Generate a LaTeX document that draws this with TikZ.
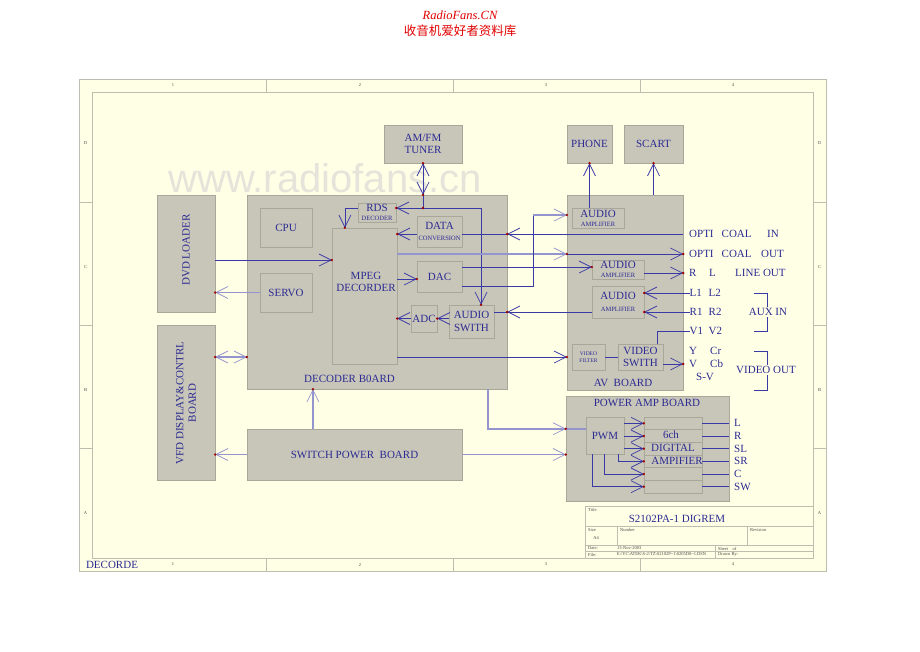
\documentclass[tikz,border=0pt]{standalone}
\usepackage{fontspec}
\setmainfont{Liberation Serif}
\newfontfamily\wmfont{Liberation Sans}
\newfontfamily\cjkfont{Noto Sans CJK SC}
\usetikzlibrary{arrows.meta}
\usetikzlibrary{calc}

\definecolor{paper}{HTML}{FFFFE6}
\definecolor{frameline}{HTML}{BDBDB0}
\definecolor{boxfill}{HTML}{C8C5B9}
\definecolor{boxline}{HTML}{A9A69A}
\definecolor{ink}{HTML}{2B2B92}
\definecolor{wireblue}{HTML}{3A3AA6}
\definecolor{busblue}{HTML}{9494CE}
\definecolor{dotred}{HTML}{A00000}
\definecolor{webred}{HTML}{E00000}
\definecolor{wmgray}{HTML}{E4E4DA}

\newcommand{\subfont}{\fontsize{6.5}{7}\selectfont}
\newcommand{\tipdot}[1]{\fill[dotred] (#1) circle[radius=1.3pt];}

\tikzset{
  blk/.style={draw=boxline, fill=boxfill, inner sep=0pt, text=ink, align=center},
  txt/.style={text=ink, inner sep=0pt},
  tiny/.style={inner sep=0pt, text=black!70, font=\fontsize{4.5}{5}\selectfont},
  wire/.style={draw=wireblue, line width=0.7pt},
  bus/.style={draw=busblue, line width=1.6pt},
  arr/.style={-{Straight Barb[length=12pt,width=12pt,line width=0.7pt]}},
  biarr/.style={{Straight Barb[length=12pt,width=12pt,line width=0.7pt]}-{Straight Barb[length=12pt,width=12pt,line width=0.7pt]}},
}

\begin{document}
\begin{tikzpicture}[x=1pt,y=-1pt,font=\fontsize{11}{12.5}\selectfont]
  \useasboundingbox (0,0) rectangle (920,651);

  % defines
  \pgfmathsetmacro\LoadY{260} % DVD loader -> MPEG
  \pgfmathsetmacro\VfdY{357}  % VFD <-> decoder
  \pgfmathsetmacro\RdsY{208}  % tuner bus

  % sheet and border
  \filldraw[fill=paper,draw=frameline] (79,79) rectangle (826,571);
  \draw[frameline] (92,92) rectangle (813,558);
  \foreach \x in {266,453,640} {
    \draw[frameline] (\x,79) -- (\x,92);
    \draw[frameline] (\x,558) -- (\x,571);
  }
  \foreach \y in {202,325,448} {
    \draw[frameline] (79,\y) -- (92,\y);
    \draw[frameline] (813,\y) -- (826,\y);
  }
  \foreach \n/\x in {1/173,2/360,3/546,4/733} {
    \node[tiny] (coltop\n) at (\x,85.5) {\n};
    \node[tiny] (colbot\n) at (\x,564.5) {\n};
  }
  \foreach \l/\y in {D/143,C/267,B/390,A/513} {
    \node[tiny] (rowl\l) at (85.5,\y) {\l};
    \node[tiny] (rowr\l) at (819.5,\y) {\l};
  }
  \node[txt] (sheetname) at (112,565) {DECORDE};

  % title block
  \draw[frameline] (585,506) rectangle (813,558);
  \draw[frameline] (585,526) -- (813,526);
  \draw[frameline] (585,545.5) -- (813,545.5);
  \draw[frameline] (585,551.5) -- (813,551.5);
  \draw[frameline] (617,526) -- (617,545.5);
  \draw[frameline] (747,526) -- (747,545.5);
  \draw[frameline] (715,545.5) -- (715,558);
  \node[tiny, anchor=west] (ttitle) at (588,509.5) {Title};
  \node[txt] (dwgname) at (677,519) {S2102PA-1 DIGREM};
  \node[tiny, anchor=west] (tsize) at (588,530) {Size};
  \node[tiny] (tformat) at (596,538.5) {A4};
  \node[tiny, anchor=west] (tnumber) at (620,530) {Number};
  \node[tiny, anchor=west] (trev) at (750,530) {Revision};
  \node[tiny, anchor=west] (tdate) at (588,548.5) {Date:};
  \node[tiny, anchor=west] (tdateval) at (617,548.5) {13-Nov-2003};
  \node[tiny, anchor=west] (tsheet) at (718,548.5) {Sheet\ \ \ \ of};
  \node[tiny, anchor=west] (tfile) at (588,554.5) {File:};
  \node[tiny, anchor=west] (tfileval) at (617,554.5) {E:\textbackslash YC\textbackslash ATEK\textbackslash S-2\textbackslash TZ\textbackslash S2102P\textasciitilde1\textbackslash 0205D0\textasciitilde1.DSN};
  \node[tiny, anchor=west] (tdrawn) at (718,554.5) {Drawn By:};

  % site header and watermark
  \node[text=webred, font=\fontsize{12.5}{14}\selectfont\itshape] (site) at (460,15) {RadioFans.CN};
  \node[text=webred, font=\cjkfont\fontsize{12.5}{14}\selectfont] (sitecn) at (460,31) {收音机爱好者资料库};
  \node[text=wmgray, font=\wmfont\fontsize{40}{40}\selectfont] (wm) at (325,178) {www.radiofans.cn};

  % boards
  \node (tuner) at (423,144) [blk, minimum width=78pt, minimum height=38pt] {AM/FM\\TUNER};
  \node (phone) at (589.5,144) [blk, minimum width=45pt, minimum height=38pt] {PHONE};
  \node (scart) at (653.5,144) [blk, minimum width=59pt, minimum height=38pt] {SCART};
  \node (dvd) at (186,253.5) [blk, minimum width=58pt, minimum height=117pt] {};
  \node (vfd) at (186,402.5) [blk, minimum width=58pt, minimum height=155pt] {};
  \node (dec) at (377,292) [blk, minimum width=260pt, minimum height=194pt] {};
  \node (av) at (625,292.5) [blk, minimum width=116pt, minimum height=195pt] {};
  \node (pab) at (647.5,448.5) [blk, minimum width=163pt, minimum height=105pt] {};
  \node (swp) at (354.5,454.5) [blk, minimum width=215pt, minimum height=51pt] {SWITCH POWER\ \ BOARD};
  \node[txt, rotate=90] (dvdlbl) at (186,250) {DVD LOADER};
  \node[txt, rotate=90, align=center] (vfdlbl) at (186,403) {VFD DISPLAY\&CONTRL\\BOARD};
  \node[txt] (declbl) at (349.5,379) {DECODER B0ARD};
  \node[txt] (avlbl) at (623,383) {AV\ \ BOARD};
  \node[txt] (pablbl) at (647,403) {POWER AMP BOARD};

  % decoder board parts
  \node (cpu) at (286,227.5) [blk, minimum width=52pt, minimum height=39pt] {CPU};
  \node (servo) at (286,292.5) [blk, minimum width=52pt, minimum height=39pt] {SERVO};
  \node (mpeg) at (364.5,296) [blk, minimum width=65pt, minimum height=136pt] {};
  \node[txt, align=center] (mpeglbl) at (366,282) {MPEG\\DECORDER};
  \node (rds) at (377,212.5) [blk, minimum width=38pt, minimum height=19pt] {RDS\\[-4pt]{\subfont DECODER}};
  \node (data) at (439.5,231.5) [blk, minimum width=45pt, minimum height=31pt] {DATA\\[-1pt]{\subfont CONVERSION}};
  \node (dac) at (439.5,276.5) [blk, minimum width=45pt, minimum height=31pt] {DAC};
  \node (adc) at (424,318.5) [blk, minimum width=26pt, minimum height=27pt] {ADC};
  \node (asw) at (471.5,321.5) [blk, minimum width=45pt, minimum height=33pt] {AUDIO\\SWITH};

  % av board parts
  \node (amp1) at (598,218) [blk, minimum width=52pt, minimum height=20pt] {AUDIO\\[-3.5pt]{\subfont AMPLIFIER}};
  \node (amp2) at (618,269.5) [blk, minimum width=52pt, minimum height=19pt] {AUDIO\\[-3.5pt]{\subfont AMPLIFIER}};
  \node (amp3) at (618,302) [blk, minimum width=52pt, minimum height=32pt] {AUDIO\\{\subfont AMPLIFIER}};
  \node (vfilter) at (588.5,357) [blk, minimum width=33pt, minimum height=26pt, font=\fontsize{5.5}{6.5}\selectfont] {VIDEO\\FILTER};
  \node (vsw) at (640.5,357) [blk, minimum width=45pt, minimum height=26pt] {VIDEO\\SWITH};

  % power amp parts
  \node (pwm) at (605,435.5) [blk, minimum width=38pt, minimum height=37pt] {PWM};
  \foreach \i in {1,...,6}
    \node (pa\i) at (673,{417+12.67*(\i-0.5)}) [blk, minimum width=58pt, minimum height=12.67pt] {};
  \node[txt] (palbl1) at (671,435) {6ch};
  \node[txt] (palbl2) at (673,448) {DIGITAL};
  \node[txt] (palbl3) at (677,461) {AMPIFIER};

  % jacks on the right
  \node[txt, anchor=west] (optin) at (689,234) {OPTI};
  \node[txt, anchor=west] (coalin) at (721.5,234) {COAL};
  \node[txt, anchor=west] (insig) at (767,234) {IN};
  \node[txt, anchor=west] (optout) at (689,254) {OPTI};
  \node[txt, anchor=west] (coalout) at (721.5,254) {COAL};
  \node[txt, anchor=west] (outsig) at (761,254) {OUT};
  \node[txt, anchor=west] (lor) at (689,273) {R};
  \node[txt, anchor=west] (lol) at (709,273) {L};
  \node[txt, anchor=west] (lineout) at (735,273) {LINE OUT};
  \node[txt, anchor=west] (auxl1) at (689.5,293) {L1};
  \node[txt, anchor=west] (auxl2) at (708.5,293) {L2};
  \node[txt, anchor=west] (auxr1) at (689.5,312) {R1};
  \node[txt, anchor=west] (auxr2) at (708.5,312) {R2};
  \node[txt, anchor=west] (auxv1) at (689.5,331) {V1};
  \node[txt, anchor=west] (auxv2) at (708.5,331) {V2};
  \node[txt, anchor=west] (vidy) at (689,351) {Y};
  \node[txt, anchor=west] (vidcr) at (710,351) {Cr};
  \node[txt, anchor=west] (vidv) at (689,364) {V};
  \node[txt, anchor=west] (vidcb) at (710,364) {Cb};
  \node[txt, anchor=west] (vidsv) at (696,377) {S-V};
  \draw[wire] (754,293) -- (767,293) -- (767,331) -- (754,331);
  \draw[wire] (754,351) -- (767,351) -- (767,390) -- (754,390);
  \node[txt, fill=paper, inner sep=1pt] (auxin) at (768,312) {AUX IN};
  \node[txt, fill=paper, inner sep=1pt] (vidout) at (766,370) {VIDEO OUT};
  \foreach \i/\t in {1/L,2/R,3/SL,4/SR,5/C,6/SW} {
    \node[txt, anchor=west] (po\i) at (734,{417+12.67*(\i-0.5)}) {\t};
    \draw[wire] (pa\i.east) -- (pab.east |- pa\i.east);
  }

  % tuner, rds and audio switch
  \coordinate (rdsj) at (tuner.south |- 0,\RdsY);
  \coordinate (aswin) at ($(asw.north west)!0.71!(asw.north east)$);
  \coordinate (mpegin) at ($(mpeg.north west)!0.2!(mpeg.north east)$);
  \draw[wire,biarr] (tuner.south) -- (tuner.south |- dec.north);
  \draw[wire] (tuner.south |- dec.north) -- (rdsj);
  \draw[wire,arr] (rdsj) -- (rdsj -| rds.east);
  \draw[wire,arr] (rdsj) -| (aswin);
  \draw[wire,arr] (rds.west |- rdsj) -| (mpegin);

  % audio paths
  \draw[wire,arr] (data.west |- optin) -- (mpeg.east |- optin);
  \draw[wire,arr] (av.east |- optin) -- (dec.east |- optin);
  \draw[wire] (dec.east |- optin) -- (data.east |- optin);
  \draw[bus,arr] (mpeg.east |- optout) -- (av.west |- optout);
  \draw[wire,arr] (av.west |- optout) -- (av.east |- optout);
  \draw[wire,arr] (mpeg.east |- 0,279) -- (dac.west |- 0,279);
  \draw[wire,arr] (dac.east |- 0,267) -- (amp2.west |- 0,267);
  \coordinate (dacout) at ($(dac.south east)+(0,-6)$);
  \coordinate (avbus) at ($(dacout)+(71,0)$);
  \draw[wire] (dacout) -- (avbus) -- (avbus |- 0,215);
  \draw[bus,arr] (avbus |- 0,215) -- (av.west |- 0,215);
  \draw[wire,arr] (amp2.east |- lor) -- (av.east |- lor);
  \draw[wire,arr] (auxl1.west) -- (amp3.east |- auxl1.west);
  \draw[wire,arr] (auxr1.west) -- (amp3.east |- auxr1.west);
  \draw[wire,arr] (amp3.west |- auxr1) -- (dec.east |- auxr1);
  \draw[wire] (dec.east |- auxr1) -- (asw.east |- auxr1);
  \draw[wire,arr] (asw.west |- adc.east) -- (adc.east);
  \draw[wire,arr] (adc.west) -- (mpeg.east |- adc.west);
  \draw[wire,arr] (phone.south |- amp1.north) -- (phone.south);
  \draw[wire,arr] (scart.south |- av.north) -- (scart.south);

  % video paths
  \coordinate (vswin) at ($(vsw.north west)!0.87!(vsw.north east)$);
  \draw[wire] (auxv1.west) -| (vswin);
  \draw[wire,arr] (mpeg.east |- vfilter.west) -- (av.west |- vfilter.west);
  \draw[wire] (vfilter.east) -- (vsw.west);
  \draw[wire,arr] (vsw.east |- vidv) -- (av.east |- vidv);

  % loader, display, power
  \coordinate (swpup) at ($(swp.north west)!0.307!(swp.north east)$);
  \coordinate (decout) at ($(dec.south west)!0.927!(dec.south east)$);
  \coordinate (pwmin) at ($(pwm.north west)!0.32!(pwm.south west)$);
  \draw[wire,arr] (dvd.east |- 0,\LoadY) -- (mpeg.west |- 0,\LoadY);
  \draw[bus,arr] (servo.west) -- (dvd.east |- servo.west);
  \draw[bus,biarr] (vfd.east |- 0,\VfdY) -- (dec.west |- 0,\VfdY);
  \draw[bus,arr] (swp.west) -- (vfd.east |- swp.west);
  \draw[bus,arr] (swpup) -- (swpup |- dec.south);
  \draw[bus,arr] (swp.east) -- (pab.west |- swp.east);
  \draw[bus,arr] (decout) |- (pab.west |- pwmin);
  \draw[bus] (pab.west |- pwmin) -- (pwmin);

  % pwm to 6ch amplifier
  \foreach \i in {1,2,3}
    \draw[wire,arr] (pwm.east |- pa\i.west) -- (pa\i.west);
  \foreach \i/\f in {4/0.84,5/0.47,6/0.16}
    \draw[wire,arr] ($(pwm.south west)!\f!(pwm.south east)$) |- (pa\i.west);

  % red tips
  \tipdot{tuner.south} \tipdot{tuner.south |- dec.north} \tipdot{rdsj}
  \tipdot{rdsj -| rds.east} \tipdot{aswin} \tipdot{mpegin}
  \tipdot{mpeg.east |- optin} \tipdot{dec.east |- optin}
  \tipdot{av.west |- optout} \tipdot{av.east |- optout}
  \tipdot{dac.west |- 0,279} \tipdot{amp2.west |- 0,267} \tipdot{av.west |- 0,215}
  \tipdot{av.east |- lor} \tipdot{amp3.east |- auxl1.west} \tipdot{amp3.east |- auxr1.west}
  \tipdot{dec.east |- auxr1} \tipdot{adc.east} \tipdot{mpeg.east |- adc.west}
  \tipdot{phone.south} \tipdot{scart.south}
  \tipdot{av.west |- vfilter.west} \tipdot{av.east |- vidv}
  \tipdot{mpeg.west |- 0,\LoadY} \tipdot{dvd.east |- servo.west}
  \tipdot{vfd.east |- 0,\VfdY} \tipdot{dec.west |- 0,\VfdY}
  \tipdot{vfd.east |- swp.west} \tipdot{swpup |- dec.south}
  \tipdot{pab.west |- swp.east} \tipdot{pab.west |- pwmin}
  \foreach \i in {1,...,6} { \tipdot{pa\i.west} }
\end{tikzpicture}
\end{document}
